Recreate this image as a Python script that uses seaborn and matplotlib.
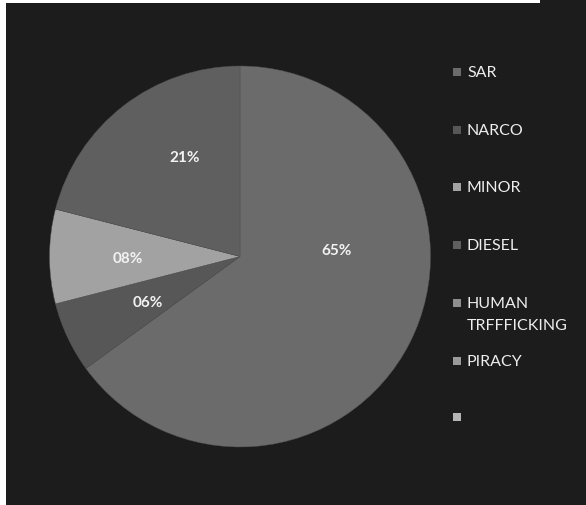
import matplotlib.pyplot as plt
from matplotlib.patches import Rectangle
import numpy as np
import seaborn as sns

# data
categories = ['SAR', 'NARCO', 'MINOR', 'DIESEL', 'HUMAN\nTRFFFICKING', 'PIRACY', '']
shares = [65, 6, 8, 21, 0, 0, 0]
colors = ['#6b6b6b', '#575757', '#a2a2a2', '#5f5f5f', '#8e8e8e', '#9a9a9a', '#b5b5b5']
labels = ['65%', '06%', '08%', '21%']

sns.set_style('dark')
plt.rcParams['font.family'] = ['Lato', 'DejaVu Sans']

W, H = 586, 506
fig = plt.figure(figsize=(W / 100, H / 100), dpi=100, facecolor='#1c1c1c')

# thin white strips on the left / top
fig.patches.append(Rectangle((0, 0), 6 / W, 1, transform=fig.transFigure,
                             facecolor='white', edgecolor='none', zorder=-5))
fig.patches.append(Rectangle((0, 1 - 4 / H), 540 / W, 4 / H, transform=fig.transFigure,
                             facecolor='white', edgecolor='none', zorder=-5))

# pie axes: centre (240, 257.5) px, radius 190.5 px
r = 190.5
ax = fig.add_axes([(240 - r) / W, (H - 257.5 - r) / H, 2 * r / W, 2 * r / H])
ax.set_facecolor('none')
vals = [v for v in shares if v > 0]
wedges, texts = ax.pie(vals, colors=colors[:len(vals)], startangle=90,
                       counterclock=False, radius=1,
                       wedgeprops=dict(linewidth=0.3, edgecolor='#505050'))
ax.set_xlim(-1, 1)
ax.set_ylim(-1, 1)
ax.set_aspect('equal')
ax.axis('off')

# percent labels (Excel best-fit placement)
label_pos = [(0.51, 4), (0.54, 206.5), (0.59, 181), (0.60, 119)]
for lab, (rr, ang) in zip(labels, label_pos):
    a = np.deg2rad(ang)
    ax.text(rr * np.cos(a), rr * np.sin(a), lab, ha='center', va='center',
            color='#f2f2f2', fontsize=11, fontweight='bold')

# legend
ys = [73, 131, 188, 246, 304, 362, 418]
for cat, col, y in zip(categories, colors, ys):
    fig.patches.append(Rectangle((453 / W, 1 - (y + 4) / H), 8 / W, 8 / H,
                                 transform=fig.transFigure, facecolor=col,
                                 edgecolor='none', zorder=2))
    for i, ln in enumerate(cat.split('\n')):
        fig.text(467 / W, 1 - (y + i * 22) / H, ln, ha='left', va='center',
                 color='#eeeeee', fontsize=11.5)

fig.savefig('out.png', dpi=100, facecolor=fig.get_facecolor())
